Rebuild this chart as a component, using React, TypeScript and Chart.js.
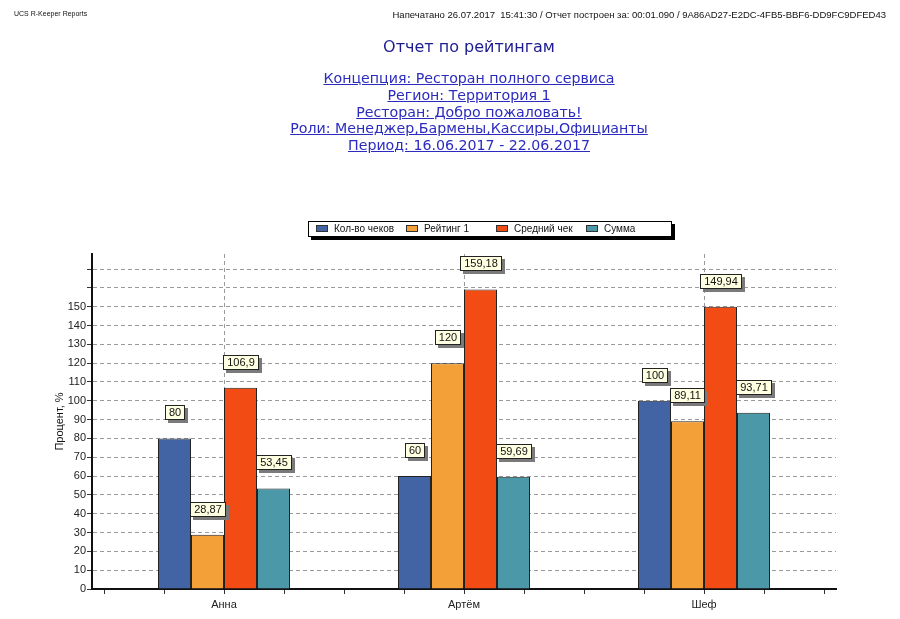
import React, { useEffect, useRef } from 'react';
import { Chart, registerables } from 'chart.js';

Chart.register(...registerables);

const categories = ['Анна', 'Артём', 'Шеф'];
const seriesNames = ['Кол-во чеков', 'Рейтинг 1', 'Средний чек', 'Сумма'];
const checksCount = [80, 60, 100];
const rating1 = [28.87, 120, 89.11];
const avgCheck = [106.9, 159.18, 149.94];
const totalSum = [53.45, 59.69, 93.71];
const seriesColors = ['#4364A4', '#F4A038', '#F24C14', '#4B98A8'];
const yMax = 178;
const yStep = 10;
const yLabelMax = 150;

const headerLeft = 'UCS R-Keeper Reports';
const headerRight = 'Напечатано 26.07.2017  15:41:30 / Отчет построен за: 00:01.090 / 9A86AD27-E2DC-4FB5-BBF6-DD9FC9DFED43';
const reportTitle = 'Отчет по рейтингам';
const reportFilters = [
  'Концепция: Ресторан полного сервиса',
  'Регион: Территория 1',
  'Ресторан: Добро пожаловать!',
  'Роли: Менеджер,Бармены,Кассиры,Официанты',
  'Период: 16.06.2017 - 22.06.2017',
];

const fmt = (v: number) => String(v).replace('.', ',');
const FONT = '"Liberation Sans", Arial, sans-serif';

const valueLabelsPlugin = {
  id: 'valueLabels',
  afterDatasetsDraw(chart: any) {
    const ctx = chart.ctx;
    ctx.save();
    ctx.font = '11px ' + FONT;
    ctx.textAlign = 'center';
    ctx.textBaseline = 'middle';
    chart.data.datasets.forEach((ds: any, di: number) => {
      const meta = chart.getDatasetMeta(di);
      meta.data.forEach((bar: any, i: number) => {
        const text = fmt(ds.data[i]);
        const w = Math.round(ctx.measureText(text).width + 8);
        const h = 15;
        const x = Math.round(bar.x - w / 2);
        const y = Math.round(bar.y - 18 - h);
        ctx.fillStyle = '#7a7a7a';
        ctx.fillRect(x + 3, y + 3, w, h);
        ctx.fillStyle = '#ffffe1';
        ctx.fillRect(x, y, w, h);
        ctx.strokeStyle = '#222';
        ctx.lineWidth = 1;
        ctx.strokeRect(x + 0.5, y + 0.5, w - 1, h - 1);
        ctx.fillStyle = '#111';
        ctx.fillText(text, x + w / 2, y + h / 2 + 0.5);
      });
    });
    ctx.restore();
  },
};

const legendBoxPlugin = {
  id: 'legendBox',
  afterDraw(chart: any) {
    const ctx = chart.ctx;
    const bx = 308, by = 221, bw = 364, bh = 16;
    ctx.save();
    ctx.fillStyle = '#000';
    ctx.fillRect(bx + 3, by + 3, bw, bh);
    ctx.fillStyle = '#fff';
    ctx.fillRect(bx, by, bw, bh);
    ctx.strokeStyle = '#000';
    ctx.lineWidth = 1;
    ctx.strokeRect(bx + 0.5, by + 0.5, bw - 1, bh - 1);
    ctx.font = '10px ' + FONT;
    ctx.textBaseline = 'middle';
    ctx.textAlign = 'left';
    chart.data.datasets.forEach((ds: any, i: number) => {
      const x0 = bx + 8 + i * 90;
      ctx.fillStyle = ds.backgroundColor;
      ctx.fillRect(x0, by + 4, 12, 7);
      ctx.strokeStyle = '#333';
      ctx.strokeRect(x0 + 0.5, by + 4.5, 11, 6);
      ctx.fillStyle = '#111';
      ctx.fillText(ds.label, x0 + 18, by + bh / 2 + 0.5);
    });
    ctx.restore();
  },
};

const minorTicksPlugin = {
  id: 'minorTicks',
  afterDraw(chart: any) {
    const ctx = chart.ctx;
    const xs = chart.scales.x;
    const bottom = chart.chartArea.bottom;
    ctx.save();
    ctx.strokeStyle = '#333';
    ctx.lineWidth = 1;
    for (let k = 0; k <= categories.length * 4; k++) {
      const v = -0.5 + k * 0.25;
      const px = Math.round(xs.getPixelForValue(v)) + 0.5;
      ctx.beginPath();
      ctx.moveTo(px, bottom + 1);
      ctx.lineTo(px, bottom + 5);
      ctx.stroke();
    }
    ctx.restore();
  },
};

export default function App() {
  const canvasRef = useRef<HTMLCanvasElement | null>(null);

  useEffect(() => {
    if (!canvasRef.current) return;
    const seriesData = [checksCount, rating1, avgCheck, totalSum];
    const chart = new Chart(canvasRef.current, {
      type: 'bar',
      data: {
        labels: categories,
        datasets: seriesNames.map((name, i) => ({
          label: name,
          data: seriesData[i],
          backgroundColor: seriesColors[i],
          borderColor: '#222',
          borderWidth: 1,
          categoryPercentage: 0.55,
          barPercentage: 1,
        })),
      },
      options: {
        responsive: false,
        animation: false,
        devicePixelRatio: 1,
        layout: { padding: { left: 48, right: 64, top: 254, bottom: 0 } },
        plugins: {
          legend: { display: false },
          tooltip: { enabled: false },
          title: { display: false },
        },
        scales: {
          x: {
            type: 'category',
            offset: true,
            afterBuildTicks: (scale: any) => {
              scale._startValue = -0.55;
              scale._valueRange = categories.length + 0.1;
            },
            afterFit: (scale: any) => {
              scale.height = 30;
            },
            grid: {
              display: true,
              offset: false,
              drawTicks: false,
              color: '#9a9a9a',
              lineWidth: 1,
            },
            border: { display: true, color: '#111', width: 2, dash: [4, 3] },
            ticks: {
              padding: 9,
              color: '#222',
              font: { family: FONT, size: 11 },
            },
          },
          y: {
            type: 'linear',
            min: 0,
            max: yMax,
            afterFit: (scale: any) => {
              scale.width = 44;
            },
            grid: {
              color: '#9a9a9a',
              lineWidth: 1,
              drawTicks: true,
              tickLength: 5,
              tickColor: '#333',
            },
            border: { display: true, color: '#111', width: 2, dash: [4, 3] },
            ticks: {
              stepSize: yStep,
              includeBounds: false,
              padding: 1,
              color: '#222',
              font: { family: FONT, size: 11 },
              callback: (v: any) => (Number(v) <= yLabelMax ? String(v) : ''),
            },
            title: {
              display: true,
              text: 'Процент, %',
              color: '#111',
              font: { family: FONT, size: 11 },
              padding: { top: 5, bottom: 0 },
            },
          },
        },
      },
      plugins: [valueLabelsPlugin, legendBoxPlugin, minorTicksPlugin],
    } as any);
    return () => chart.destroy();
  }, []);

  return (
    <div style={{ position: 'absolute', left: 0, top: 0, width: 900, height: 619, background: '#fff', overflow: 'hidden' }}>
      <canvas ref={canvasRef} width={900} height={619} style={{ position: 'absolute', left: 0, top: 0, width: 900, height: 619 }} />
      <div style={{ position: 'absolute', left: 14, top: 10, font: '7px ' + FONT, color: '#111', whiteSpace: 'nowrap' }}>{headerLeft}</div>
      <div style={{ position: 'absolute', right: 14, top: 9, font: '9.5px ' + FONT, color: '#111', whiteSpace: 'pre' }}>{headerRight}</div>
      <div style={{ position: 'absolute', left: 0, width: 938, top: 37, textAlign: 'center', font: '16px "DejaVu Sans", sans-serif', color: '#1c1c90', whiteSpace: 'nowrap' }}>{reportTitle}</div>
      <div style={{ position: 'absolute', left: 0, width: 938, top: 70, textAlign: 'center', font: '14.2px/16.8px "DejaVu Sans", sans-serif', color: '#2b2bc0' }}>
        {reportFilters.map((t) => (
          <div key={t} style={{ textDecoration: 'underline', whiteSpace: 'nowrap' }}>{t}</div>
        ))}
      </div>
    </div>
  );
}
